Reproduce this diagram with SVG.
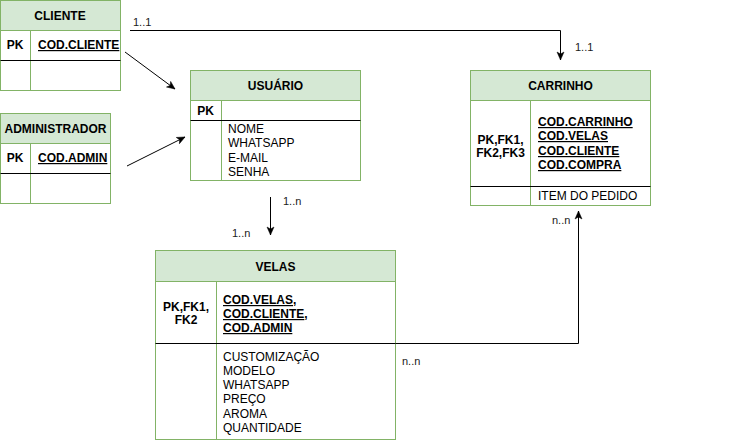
<svg xmlns="http://www.w3.org/2000/svg" width="741" height="441" viewBox="0 0 741 441">
<style>
.hdr{fill:#d5e8d4;stroke:#82b366;stroke-width:1}
.body{fill:#ffffff;stroke:#82b366;stroke-width:1}
.gdiv{stroke:#82b366;stroke-width:1}
.bdiv{stroke:#000000;stroke-width:1}
text{font-family:"Liberation Sans",Arial,Helvetica,sans-serif;font-size:12px;fill:#000}
.t{font-weight:bold;text-anchor:middle}
.k{font-weight:bold}
.kc{font-weight:bold;text-anchor:middle}
.u{text-decoration:underline}
.lbl{font-size:11px;fill:#1a1a1a}
.conn{fill:none;stroke:#000;stroke-width:1}
</style>
<defs>
<marker id="arr" markerUnits="userSpaceOnUse" markerWidth="10" markerHeight="10" viewBox="0 0 10 10" refX="9" refY="5" orient="auto">
<path d="M1,1.5 L9,5 L1,8.5 L3,5 Z" fill="#000" stroke="#000" stroke-width="0.5"/>
</marker>
</defs>

<g id="cliente">
<rect class="body" x="0.5" y="30.5" width="120" height="60"/>
<rect class="hdr" x="0.5" y="0.5" width="120" height="30"/>
<line class="gdiv" x1="30.5" y1="30.5" x2="30.5" y2="90.5"/>
<line class="bdiv" x1="0.5" y1="60.5" x2="120.5" y2="60.5"/>
<text class="t" x="60" y="20">CLIENTE</text>
<text class="kc" x="15" y="49">PK</text>
<text class="k u" x="38" y="49">COD.CLIENTE</text>
</g>

<g id="administrador">
<rect class="body" x="0.5" y="143.5" width="110" height="60"/>
<rect class="hdr" x="0.5" y="113.5" width="110" height="30"/>
<line class="gdiv" x1="30.5" y1="143.5" x2="30.5" y2="203.5"/>
<line class="bdiv" x1="0.5" y1="173.5" x2="110.5" y2="173.5"/>
<text class="t" x="55.5" y="133">ADMINISTRADOR</text>
<text class="kc" x="15" y="162">PK</text>
<text class="k u" x="38" y="162">COD.ADMIN</text>
</g>

<g id="usuario">
<rect class="body" x="190.5" y="100.5" width="170" height="80"/>
<rect class="hdr" x="190.5" y="70.5" width="170" height="30"/>
<line class="gdiv" x1="221.5" y1="100.5" x2="221.5" y2="180.5"/>
<line class="bdiv" x1="190.5" y1="120.5" x2="360.5" y2="120.5"/>
<text class="t" x="275.5" y="90">USUÁRIO</text>
<text class="kc" x="205.5" y="115">PK</text>
<text x="228" y="133">NOME</text>
<text x="228" y="147">WHATSAPP</text>
<text x="228" y="161.5">E-MAIL</text>
<text x="228" y="175.5">SENHA</text>
</g>

<g id="carrinho">
<rect class="body" x="470.5" y="100.5" width="180" height="105"/>
<rect class="hdr" x="470.5" y="70.5" width="180" height="30"/>
<line class="gdiv" x1="530.5" y1="100.5" x2="530.5" y2="205.5"/>
<line class="bdiv" x1="470.5" y1="186.5" x2="650.5" y2="186.5"/>
<text class="t" x="560.5" y="90">CARRINHO</text>
<text class="kc" x="500.5" y="144">PK,FK1,</text>
<text class="kc" x="500.5" y="157">FK2,FK3</text>
<text class="k u" x="538" y="126">COD.CARRINHO</text>
<text class="k u" x="538" y="140">COD.VELAS</text>
<text class="k u" x="538" y="155">COD.CLIENTE</text>
<text class="k u" x="538" y="169">COD.COMPRA</text>
<text x="538" y="200">ITEM DO PEDIDO</text>
</g>

<g id="velas">
<rect class="body" x="155.5" y="281.5" width="240" height="158"/>
<rect class="hdr" x="155.5" y="250.5" width="240" height="31"/>
<line class="gdiv" x1="216.5" y1="281.5" x2="216.5" y2="439.5"/>
<line class="bdiv" x1="155.5" y1="343.5" x2="395.5" y2="343.5"/>
<text class="t" x="275.5" y="271">VELAS</text>
<text class="kc" x="186" y="311">PK,FK1,</text>
<text class="kc" x="186" y="324">FK2</text>
<text class="k" x="223" y="304"><tspan class="u">COD.VELAS</tspan>,</text>
<text class="k" x="223" y="318"><tspan class="u">COD.CLIENTE</tspan>,</text>
<text class="k u" x="223" y="332">COD.ADMIN</text>
<text x="223" y="361">CUSTOMIZAÇÃO</text>
<text x="223" y="375">MODELO</text>
<text x="223" y="389">WHATSAPP</text>
<text x="223" y="403">PREÇO</text>
<text x="223" y="417.5">AROMA</text>
<text x="223" y="431.5">QUANTIDADE</text>
</g>

<g id="connectors">
<path class="conn" d="M130,30.5 H560.5 V60" marker-end="url(#arr)"/>
<path class="conn" d="M125,52 L175,89" marker-end="url(#arr)"/>
<path class="conn" d="M127,166 L185,137" marker-end="url(#arr)"/>
<path class="conn" d="M270.5,197 V235" marker-end="url(#arr)"/>
<path class="conn" d="M395.5,343.5 H578.5 V211" marker-end="url(#arr)"/>
<text class="lbl" x="133" y="26">1..1</text>
<text class="lbl" x="575" y="51">1..1</text>
<text class="lbl" x="283" y="205">1..n</text>
<text class="lbl" x="232" y="237">1..n</text>
<text class="lbl" x="552" y="224">n..n</text>
<text class="lbl" x="402" y="365">n..n</text>
</g>
</svg>
